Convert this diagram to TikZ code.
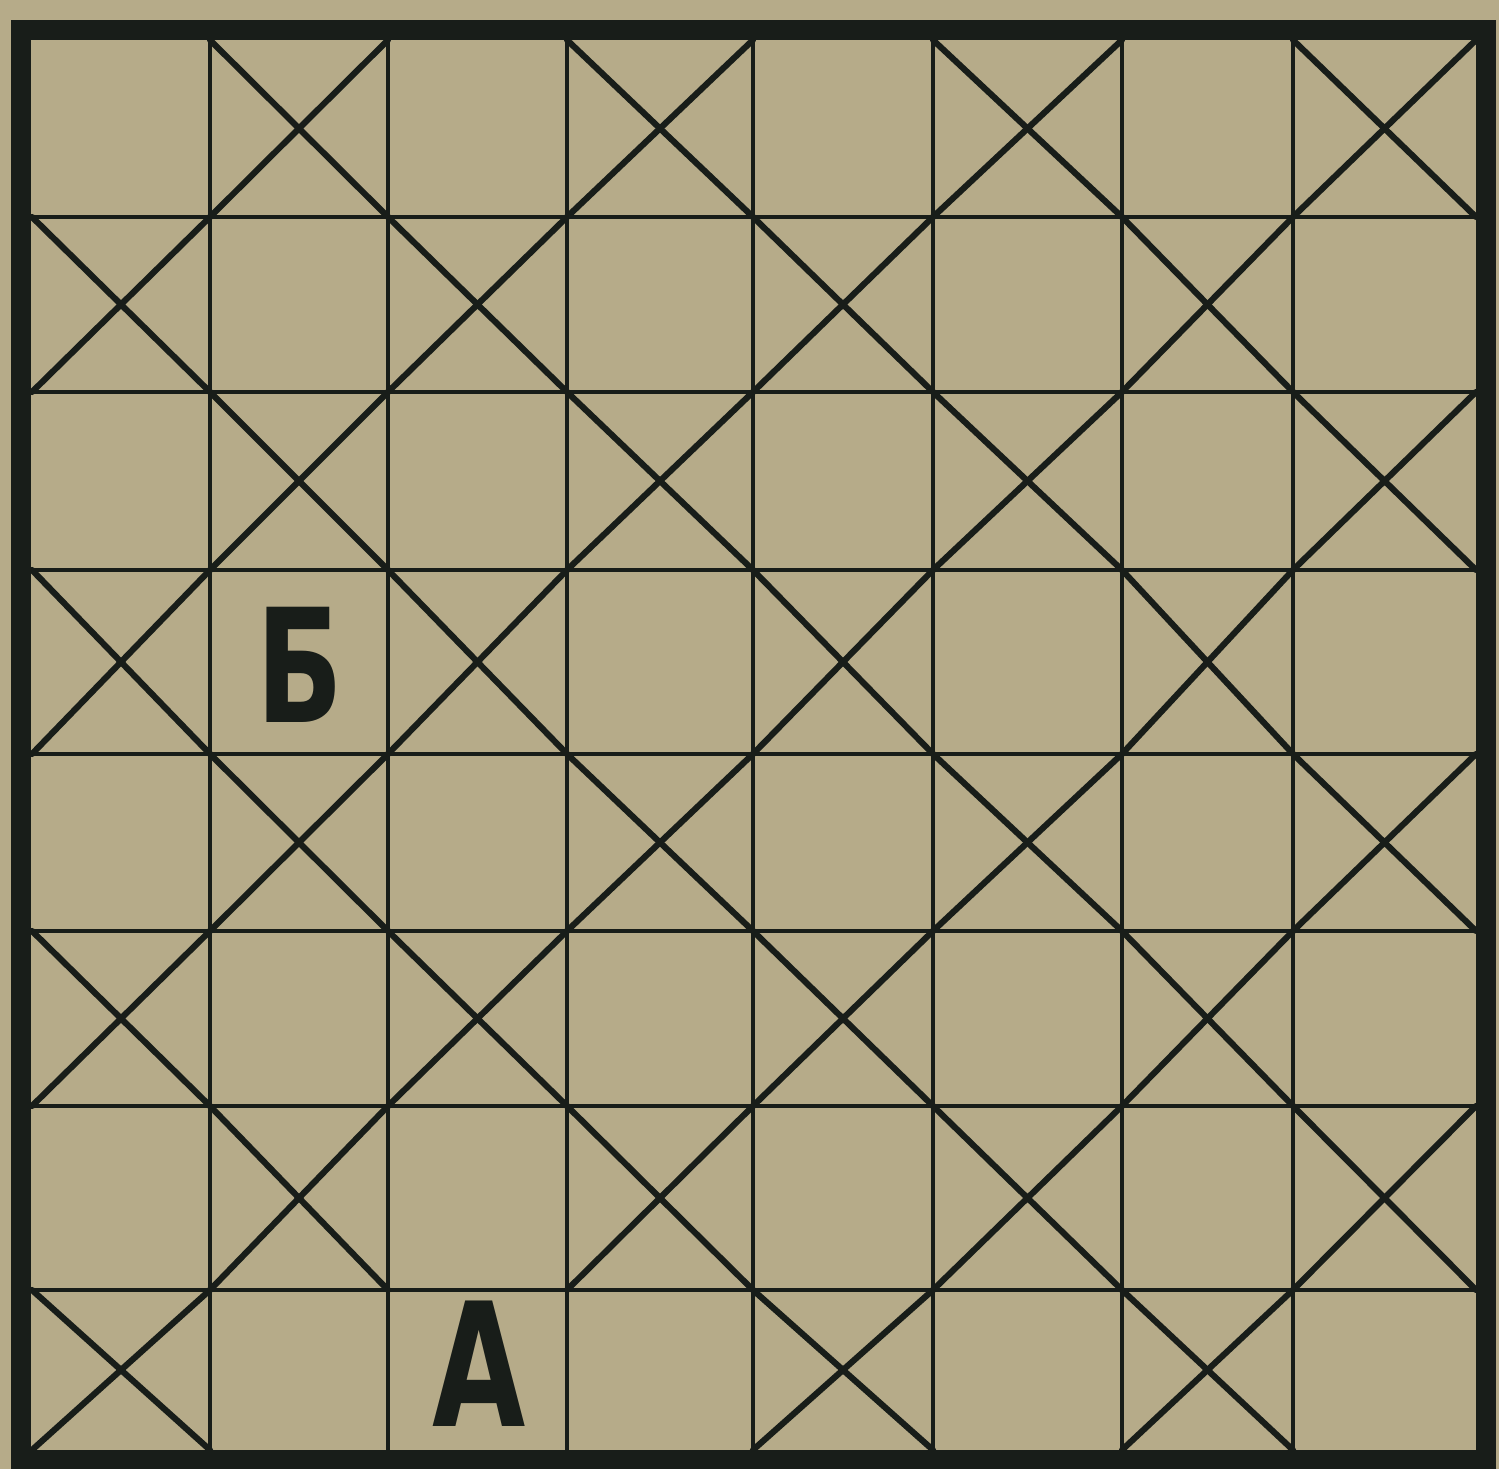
\documentclass[tikz,border=0pt]{standalone}
\usepackage{graphicx}
\usepackage{fontspec}
\newfontfamily\lettersfont{DejaVu Sans}
\definecolor{paper}{RGB}{182,171,137}
\definecolor{ink}{RGB}{24,29,25}
\begin{document}
\begin{tikzpicture}[x=0.1mm,y=-0.1mm,
  gridline/.style={ink, line width=1.3pt},
  diag/.style={ink, line width=1.75pt, line cap=round},
  frame/.style={ink, line width=5.7pt, line join=miter},
  letter/.style={ink, inner sep=0pt, anchor=base}]
\fill[paper] (0,0) rectangle (1499,1469);
\useasboundingbox (0,0) rectangle (1499,1469);
\def\xs{{32,210,388,567,753,933,1122,1293,1476}}
\def\ys{{40,217,392,570,754,931,1106,1290,1450}}
\foreach \c in {0,...,8}{
  \foreach \r in {0,...,8}{
    \pgfmathsetmacro\xx{\xs[\c]}
    \pgfmathsetmacro\yy{\ys[\r]}
    \coordinate (p\c-\r) at (\xx,\yy);
  }
}
% grid lines
\foreach \i in {1,...,7}{
  \draw[gridline] (p\i-0) -- (p\i-8);
  \draw[gridline] (p0-\i) -- (p8-\i);
}
% diagonals: crosses in every cell with odd col+row, except the cell of A
\foreach \c in {0,...,7}{
  \foreach \r in {0,...,7}{
    \pgfmathtruncatemacro\parity{mod(\c+\r,2)}
    \pgfmathtruncatemacro\isA{(\c==2)&&(\r==7)}
    \pgfmathtruncatemacro\cn{\c+1}
    \pgfmathtruncatemacro\rn{\r+1}
    \ifnum\parity=1\relax
      \ifnum\isA=0\relax
        \draw[diag] (p\c-\r) -- (p\cn-\rn);
        \draw[diag] (p\cn-\r) -- (p\c-\rn);
      \fi
    \fi
  }
}
% frame
\draw[frame] (21,30) rectangle (1486,1460);
% letters
\node[letter, font=\lettersfont\bfseries\fontsize{45pt}{45pt}\selectfont] (B) at (300,723) {\scalebox{0.72}[1]{Б}};
\node[letter, font=\lettersfont\bfseries\fontsize{49pt}{49pt}\selectfont] (A) at (479,1427) {\scalebox{0.7}[1]{А}};
\end{tikzpicture}
\end{document}
